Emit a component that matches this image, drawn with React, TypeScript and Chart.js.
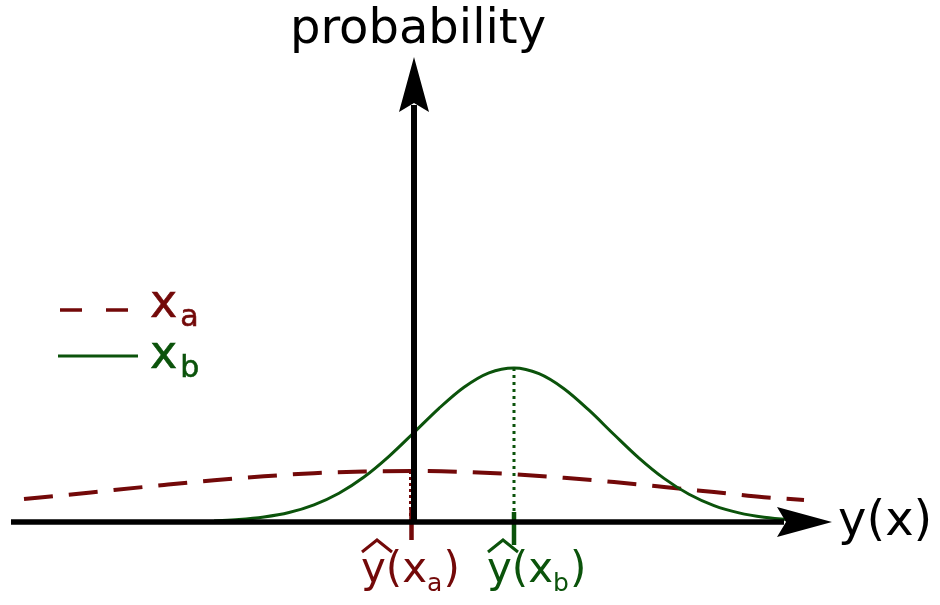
import React, { useEffect, useRef } from 'react';
import { Chart, registerables } from 'chart.js';

Chart.register(...registerables);

const RED = '#730909';
const GREEN = '#0b530b';
const FONT = '"DejaVu Sans", "Liberation Sans", sans-serif';

// Broad distribution for x_a (dashed)
const xaX = [-3.9, -3.5, -3.0, -2.5, -2.0, -1.5, -1.0, -0.5, 0, 0.5, 1.0, 1.5, 2.0, 2.5, 3.0, 3.5, 3.9];
const xaY = [0.229, 0.268, 0.32, 0.37, 0.417, 0.457, 0.488, 0.505, 0.51, 0.5, 0.477, 0.442, 0.399, 0.35, 0.299, 0.248, 0.22];

// Narrow distribution for x_b (solid)
const xbX = [-2.0, -1.75, -1.5, -1.25, -1.0, -0.75, -0.5, -0.25, 0, 0.25, 0.5, 0.75, 1.0, 1.25, 1.5, 1.75, 2.0, 2.25, 2.5, 2.75, 3.0, 3.25, 3.5, 3.75, 4.0];
const xbY = [0.011, 0.024, 0.05, 0.095, 0.172, 0.288, 0.45, 0.657, 0.895, 1.137, 1.348, 1.492, 1.54, 1.483, 1.333, 1.118, 0.875, 0.639, 0.436, 0.277, 0.164, 0.091, 0.047, 0.023, 0.01];

// Estimates ŷ(x_a), ŷ(x_b)
const estimateX = [-0.035, 1.0];
const estimateY = [0.51, 1.54];
const tickX = [-0.025, 1.0];
const tickTop = [0.12, 0.1];
const tickBottom = [-0.18, -0.23];

const xAxisRange = [-4.03, 4.18];
const yAxisRange = [0, 4.65];
const seriesSubs = ['a', 'b'];
const axisTitles = ['probability', 'y(x)'];

function drawArrow(ctx: CanvasRenderingContext2D, tx: number, ty: number, dx: number, dy: number) {
  const L = 55, hw = 15, notch = 46;
  const nx = -dy, ny = dx;
  ctx.beginPath();
  ctx.moveTo(tx, ty);
  ctx.lineTo(tx - L * dx + hw * nx, ty - L * dy + hw * ny);
  ctx.lineTo(tx - notch * dx, ty - notch * dy);
  ctx.lineTo(tx - L * dx - hw * nx, ty - L * dy - hw * ny);
  ctx.closePath();
  ctx.fill();
}

function drawHatLabel(ctx: CanvasRenderingContext2D, x: number, baseline: number, sub: string, color: string) {
  ctx.fillStyle = color;
  ctx.strokeStyle = color;
  ctx.textAlign = 'left';
  ctx.textBaseline = 'alphabetic';
  ctx.font = `42px ${FONT}`;
  ctx.fillText('y(x', x, baseline);
  const w1 = ctx.measureText('y(x').width;
  ctx.font = `25px ${FONT}`;
  ctx.fillText(sub, x + w1, baseline + 9);
  const w2 = ctx.measureText(sub).width;
  ctx.font = `42px ${FONT}`;
  ctx.fillText(')', x + w1 + w2 + 1, baseline);
  // hat
  ctx.lineWidth = 3;
  ctx.lineJoin = 'miter';
  ctx.beginPath();
  ctx.moveTo(x + 1, baseline - 30);
  ctx.lineTo(x + 16, baseline - 42);
  ctx.lineTo(x + 31, baseline - 30);
  ctx.stroke();
}

function App() {
  const ref = useRef<HTMLCanvasElement>(null);

  useEffect(() => {
    if (!ref.current) return;
    const pts = (xs: number[], ys: number[]) => xs.map((x, i) => ({ x, y: ys[i] }));

    const overlay = {
      id: 'overlay',
      afterDatasetsDraw(chart: any) {
        const ctx: CanvasRenderingContext2D = chart.ctx;
        const sx = chart.scales.x;
        const sy = chart.scales.y;
        const x0 = sx.getPixelForValue(0);
        const y0 = sy.getPixelForValue(0);
        ctx.save();
        ctx.fillStyle = '#000';
        ctx.strokeStyle = '#000';
        ctx.lineCap = 'butt';
        // y axis
        const yTip = sy.getPixelForValue(yAxisRange[1]);
        ctx.lineWidth = 6;
        ctx.beginPath();
        ctx.moveTo(x0, y0);
        ctx.lineTo(x0, yTip + 48);
        ctx.stroke();
        drawArrow(ctx, x0, yTip, 0, -1);
        // x axis
        const xTip = sx.getPixelForValue(xAxisRange[1]);
        ctx.lineWidth = 5.5;
        ctx.beginPath();
        ctx.moveTo(sx.getPixelForValue(xAxisRange[0]), y0);
        ctx.lineTo(xTip - 48, y0);
        ctx.stroke();
        drawArrow(ctx, xTip, y0, 1, 0);

        // axis titles
        ctx.font = `48px ${FONT}`;
        ctx.textBaseline = 'alphabetic';
        ctx.textAlign = 'center';
        ctx.fillText(axisTitles[0], x0 + 4, 43);
        ctx.textAlign = 'left';
        ctx.fillText(axisTitles[1], xTip + 6, y0 + 13);

        // legend
        ctx.lineWidth = 3.5;
        ctx.strokeStyle = RED;
        ctx.setLineDash([22, 24]);
        ctx.beginPath();
        ctx.moveTo(60, 310);
        ctx.lineTo(128, 310);
        ctx.stroke();
        ctx.setLineDash([]);
        ctx.strokeStyle = GREEN;
        ctx.lineWidth = 3;
        ctx.beginPath();
        ctx.moveTo(58, 356);
        ctx.lineTo(138, 356);
        ctx.stroke();

        const legendColors = [RED, GREEN];
        const legendBase = [317, 368];
        for (let i = 0; i < 2; i++) {
          ctx.fillStyle = legendColors[i];
          ctx.strokeStyle = legendColors[i];
          ctx.lineWidth = 0.6;
          ctx.font = `46px ${FONT}`;
          ctx.fillText('x', 150, legendBase[i]);
          ctx.strokeText('x', 150, legendBase[i]);
          const w = ctx.measureText('x').width;
          ctx.font = `30px ${FONT}`;
          ctx.fillText(seriesSubs[i], 150 + w + 3, legendBase[i] + 9);
          ctx.strokeText(seriesSubs[i], 150 + w + 3, legendBase[i] + 9);
        }

        // estimate labels
        drawHatLabel(ctx, 361, 582, seriesSubs[0], RED);
        drawHatLabel(ctx, 487, 582, seriesSubs[1], GREEN);
        ctx.restore();
      },
    };

    const chart = new Chart(ref.current, {
      type: 'scatter',
      data: {
        datasets: [
          {
            label: 'tick a',
            data: [{ x: tickX[0], y: tickTop[0] }, { x: tickX[0], y: tickBottom[0] }],
            showLine: true, borderColor: RED, borderWidth: 4.5, pointRadius: 0, tension: 0,
          },
          {
            label: 'tick b',
            data: [{ x: tickX[1], y: tickTop[1] }, { x: tickX[1], y: tickBottom[1] }],
            showLine: true, borderColor: GREEN, borderWidth: 4.5, pointRadius: 0, tension: 0,
          },
          {
            label: 'est a',
            data: [{ x: estimateX[0], y: estimateY[0] }, { x: estimateX[0], y: 0 }],
            showLine: true, borderColor: RED, borderWidth: 3, borderDash: [3, 3], pointRadius: 0, tension: 0,
          },
          {
            label: 'est b',
            data: [{ x: estimateX[1], y: estimateY[1] }, { x: estimateX[1], y: 0 }],
            showLine: true, borderColor: GREEN, borderWidth: 3, borderDash: [3, 4], pointRadius: 0, tension: 0,
          },
          {
            label: 'x_b',
            data: pts(xbX, xbY),
            showLine: true, borderColor: GREEN, borderWidth: 3, pointRadius: 0,
            cubicInterpolationMode: 'monotone',
          },
          {
            label: 'x_a',
            data: pts(xaX, xaY),
            showLine: true, borderColor: RED, borderWidth: 4, borderDash: [29, 16], pointRadius: 0,
            cubicInterpolationMode: 'monotone',
          },
        ],
      },
      options: {
        animation: false,
        responsive: false,
        events: [],
        layout: { padding: 0 },
        scales: {
          x: { type: 'linear', min: -4.14, max: 5.26, display: false },
          y: { type: 'linear', min: -0.83, max: 5.22, display: false },
        },
        plugins: { legend: { display: false }, tooltip: { enabled: false } },
      },
      plugins: [overlay],
    } as any);

    return () => chart.destroy();
  }, []);

  return (
    <div style={{ position: 'fixed', left: 0, top: 0, width: 940, height: 605, background: '#fff' }}>
      <canvas ref={ref} width={940} height={605} style={{ display: 'block' }} />
    </div>
  );
}

export default App;
